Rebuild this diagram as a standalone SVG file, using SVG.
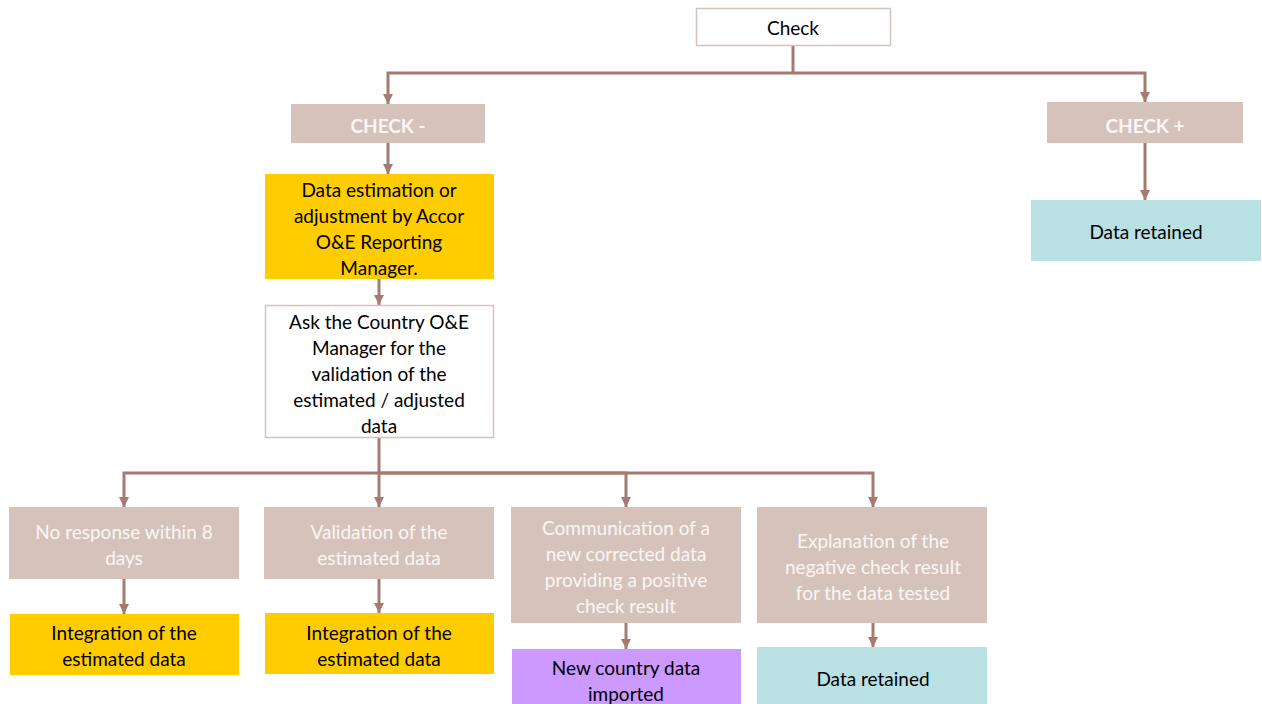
<svg xmlns="http://www.w3.org/2000/svg" width="1262" height="704" viewBox="0 0 1262 704">
<style>
text{font-family:Lato,"Open Sans",sans-serif;font-size:19px;text-anchor:middle;dominant-baseline:central}
.dk{fill:#000}
.wt{fill:#fbf6f4}
.bold{font-weight:bold}
.tan{fill:#d5c3bb}
.yel{fill:#ffcc00}
.teal{fill:#b9e0e3}
.pur{fill:#cc99ff}
.wb{fill:#fff;stroke:#d5c3bb;stroke-width:1.5}
.cn{fill:none;stroke:#a57b70;stroke-width:3}
</style>
<defs>
<marker id="ah" viewBox="0 0 10 10" refX="10" refY="5" markerWidth="3.5" markerHeight="3.5" orient="auto" markerUnits="strokeWidth">
<path d="M0,0 L10,5 L0,10 z" fill="#a57b70"/>
</marker>
</defs>
<rect width="1262" height="704" fill="#fff"/>
<g id="connectors">
<path class="cn" d="M793,45 V73"/>
<path class="cn" d="M793,73 H388 V104" marker-end="url(#ah)"/>
<path class="cn" d="M793,73 H1145 V102" marker-end="url(#ah)"/>
<path class="cn" d="M388,143 V174" marker-end="url(#ah)"/>
<path class="cn" d="M1145,143 V200" marker-end="url(#ah)"/>
<path class="cn" d="M379,279 V305" marker-end="url(#ah)"/>
<path class="cn" d="M379,438 V507" marker-end="url(#ah)"/>
<path class="cn" d="M379,473 H124 V507" marker-end="url(#ah)"/>
<path class="cn" d="M379,473 H626 V507" marker-end="url(#ah)"/>
<path class="cn" d="M379,473 H873 V507" marker-end="url(#ah)"/>
<path class="cn" d="M124,579 V614" marker-end="url(#ah)"/>
<path class="cn" d="M379,579 V613" marker-end="url(#ah)"/>
<path class="cn" d="M626,623 V649" marker-end="url(#ah)"/>
<path class="cn" d="M873,623 V647" marker-end="url(#ah)"/>
</g>
<g id="check">
<rect class="wb" x="696.5" y="8.5" width="194" height="37"/>
<text class="dk" x="793" y="27">Check</text>
</g>
<g id="check-minus">
<rect class="tan" x="291" y="104" width="194" height="39"/>
<text class="wt bold" x="388" y="125">CHECK -</text>
</g>
<g id="check-plus">
<rect class="tan" x="1047" y="102" width="196" height="41"/>
<text class="wt bold" x="1145" y="125">CHECK +</text>
</g>
<g id="retained-top">
<rect class="teal" x="1031" y="200" width="230" height="61"/>
<text class="dk" x="1146" y="231">Data retained</text>
</g>
<g id="estimation">
<rect class="yel" x="265" y="174" width="229" height="105"/>
<text class="dk" x="379" y="189">Data estimation or</text>
<text class="dk" x="379" y="215">adjustment by Accor</text>
<text class="dk" x="379" y="241">O&amp;E Reporting</text>
<text class="dk" x="379" y="267">Manager.</text>
</g>
<g id="ask">
<rect class="wb" x="265.5" y="305.5" width="228" height="132"/>
<text class="dk" x="379" y="321">Ask the Country O&amp;E</text>
<text class="dk" x="379" y="347">Manager for the</text>
<text class="dk" x="379" y="373">validation of the</text>
<text class="dk" x="379" y="399">estimated / adjusted</text>
<text class="dk" x="379" y="425">data</text>
</g>
<g id="no-response">
<rect class="tan" x="9" y="507" width="230" height="72"/>
<text class="wt" x="124" y="531">No response within 8</text>
<text class="wt" x="124" y="557">days</text>
</g>
<g id="validation">
<rect class="tan" x="264" y="507" width="230" height="72"/>
<text class="wt" x="379" y="531">Validation of the</text>
<text class="wt" x="379" y="557">estimated data</text>
</g>
<g id="communication">
<rect class="tan" x="511" y="507" width="230" height="116"/>
<text class="wt" x="626" y="527">Communication of a</text>
<text class="wt" x="626" y="553">new corrected data</text>
<text class="wt" x="626" y="579">providing a positive</text>
<text class="wt" x="626" y="605">check result</text>
</g>
<g id="explanation">
<rect class="tan" x="757" y="507" width="230" height="116"/>
<text class="wt" x="873" y="540">Explanation of the</text>
<text class="wt" x="873" y="566">negative check result</text>
<text class="wt" x="873" y="592">for the data tested</text>
</g>
<g id="integration-1">
<rect class="yel" x="10" y="614" width="229" height="61"/>
<text class="dk" x="124" y="632">Integration of the</text>
<text class="dk" x="124" y="658">estimated data</text>
</g>
<g id="integration-2">
<rect class="yel" x="265" y="613" width="229" height="61"/>
<text class="dk" x="379" y="632">Integration of the</text>
<text class="dk" x="379" y="658">estimated data</text>
</g>
<g id="new-country">
<rect class="pur" x="512" y="649" width="229" height="55"/>
<text class="dk" x="626" y="667">New country data</text>
<text class="dk" x="626" y="693">imported</text>
</g>
<g id="retained-bottom">
<rect class="teal" x="757" y="647" width="230" height="57"/>
<text class="dk" x="873" y="678">Data retained</text>
</g>
</svg>
